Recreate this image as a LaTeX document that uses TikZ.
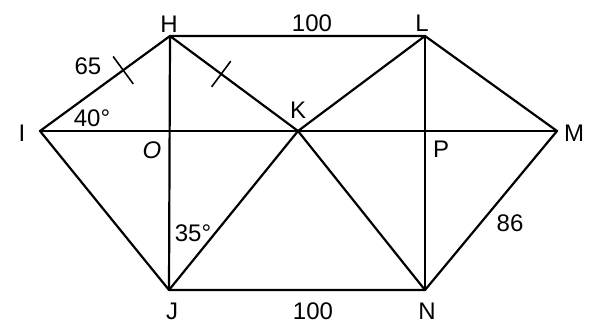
\documentclass[tikz,border=0pt]{standalone}
\usepackage{fontspec}
\setmainfont{Liberation Sans}
\usetikzlibrary{calc}
\begin{document}
\begin{tikzpicture}[x=1pt,y=-1pt,
  seg/.style={line width=2.2pt, line cap=round, line join=round},
  lbl/.style={font=\fontsize{24}{28}\selectfont, inner sep=0pt}]
\useasboundingbox (0,0) rectangle (593,323);
\fill[white] (0,0) rectangle (593,323);
\coordinate (I) at (40,131);
\coordinate (H) at (170,36);
\coordinate (L) at (425,36);
\coordinate (M) at (557,131);
\coordinate (K) at (298,131);
\coordinate (O) at (170,131);
\coordinate (P) at (425,131);
\coordinate (J) at (169,290);
\coordinate (N) at (425,290);
\draw[seg] (I) -- (H) -- (L) -- (M) -- (N) -- (J) -- cycle;
\draw[seg] (I) -- (M);
\draw[seg] (H) -- (J);
\draw[seg] (L) -- (N);
\draw[seg] (H) -- (K) -- (N);
\draw[seg] (L) -- (K) -- (J);
% tick marks
\coordinate (t1) at ($(I)!0.64!(H)$);
\coordinate (t2) at ($(H)!0.40!(K)$);
\draw[line width=1.6pt] ($(t1)!17pt!90:(H)$) -- ($(t1)!17pt!-90:(H)$);
\draw[line width=1.6pt] ($(t2)!16pt!90:(K)$) -- ($(t2)!16pt!-90:(K)$);
% labels
\node[lbl] (lH) at (169,24) {H};
\node[lbl] (lL) at (422,23) {L};
\node[lbl] (lI) at (22,133) {I};
\node[lbl] (lM) at (574,133) {M};
\node[lbl] (lK) at (298,110) {K};
\node[lbl] (lO) at (152,150) {\itshape O};
\node[lbl] (lP) at (441,149) {P};
\node[lbl] (lJ) at (172,311) {J};
\node[lbl] (lN) at (427,311) {N};
\node[lbl] (l100a) at (312,23) {100};
\node[lbl] (l100b) at (313,311) {100};
\node[lbl] (l65) at (88,66) {65};
\node[lbl] (l40) at (92,118) {40°};
\node[lbl] (l35) at (193,233) {35°};
\node[lbl] (l86) at (510,223) {86};
\end{tikzpicture}
\end{document}
